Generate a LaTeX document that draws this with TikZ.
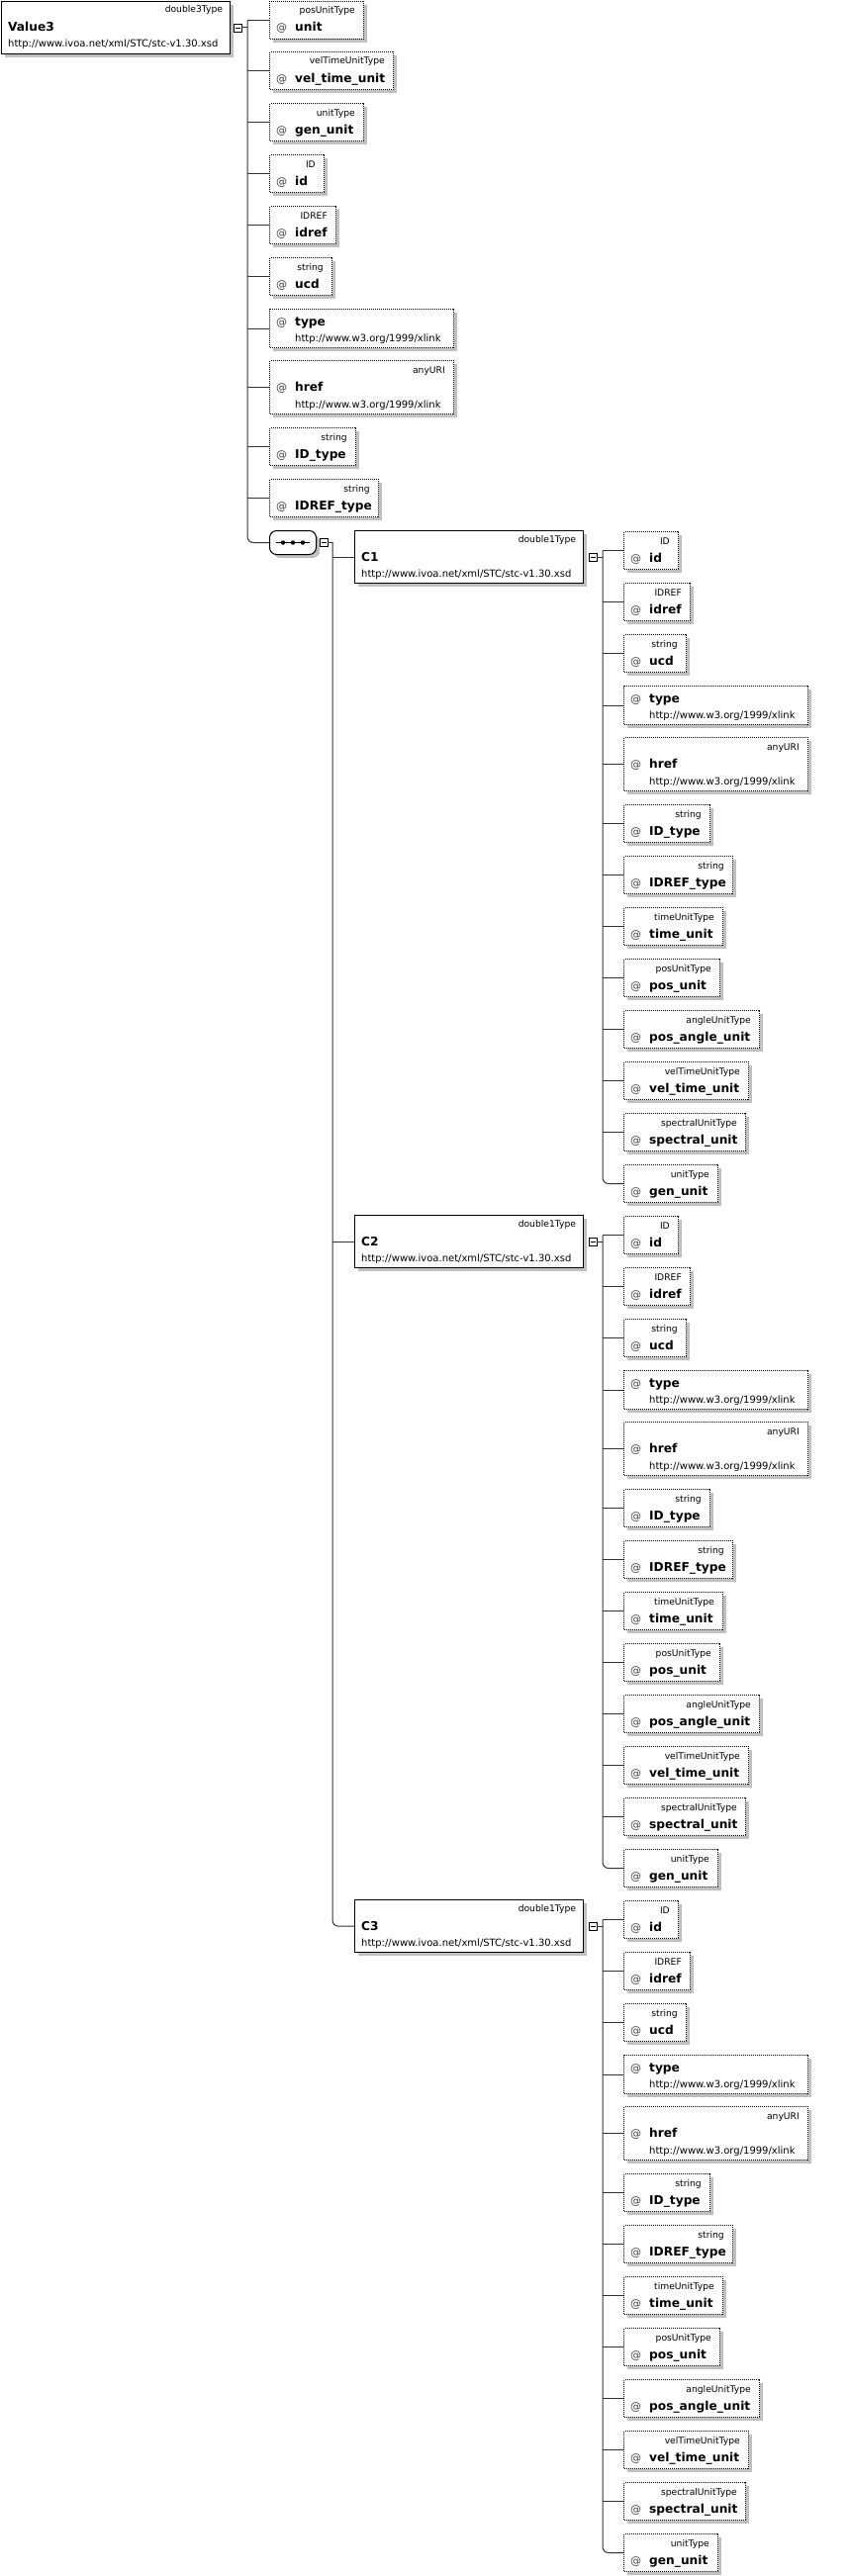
\documentclass[tikz,border=0pt]{standalone}
\usepackage{fontspec}
\setmainfont{DejaVu Sans}
\usetikzlibrary{calc}
\definecolor{shadowgray}{HTML}{C0C0C0}
\definecolor{linegray}{HTML}{333333}
\tikzset{
  x=1pt, y=-1pt,
  attrbox/.style={draw=black, fill=white, line width=1pt, dash pattern=on 1pt off 1pt, inner sep=0pt, anchor=north west},
  elembox/.style={draw=black, fill=white, line width=1.3pt, inner sep=0pt, anchor=north west},
  seqbox/.style={draw=black, fill=white, line width=1pt, rounded corners=7pt, inner sep=0pt, anchor=north west, minimum width=47, minimum height=24},
  typelbl/.style={font=\fontsize{9.2}{10}\selectfont, anchor=base east, inner sep=0pt},
  namelbl/.style={font=\fontsize{12.2}{14}\selectfont\bfseries, anchor=base west, inner sep=0pt},
  atlbl/.style={font=\fontsize{11}{13}\selectfont, anchor=base west, inner sep=0pt, text=black!75},
  urllbl/.style={font=\fontsize{10}{12}\selectfont, anchor=base west, inner sep=0pt},
  conn/.style={draw=linegray, line width=1pt},
  colbox/.style={draw=black, fill=white, line width=0.9pt, minimum size=8, inner sep=0pt,
    path picture={\draw[line width=0.8pt] ([xshift=-2.5pt]path picture bounding box.center) -- ([xshift=2.5pt]path picture bounding box.center);}},
}
% short attribute box: name, x, y, width, type label, attribute name
\newcommand\attrbx[6]{%
  \fill[shadowgray] (#2+4,#3+4) rectangle (#2+#4+4,#3+42);
  \node[attrbox, minimum width=#4, minimum height=38] (#1) at (#2,#3) {};
  \node[typelbl] (#1-t) at ($(#1.north east)+(-9,13)$) {#5};
  \node[atlbl] (#1-a) at ($(#1.north west)+(7,31)$) {@};
  \node[namelbl] (#1-n) at ($(#1.north west)+(26,31)$) {#6};
}
% xlink:type box: name, x, y, width
\newcommand\attrtype[4]{%
  \fill[shadowgray] (#2+4,#3+4) rectangle (#2+#4+4,#3+43);
  \node[attrbox, minimum width=#4, minimum height=39] (#1) at (#2,#3) {};
  \node[atlbl] (#1-a) at ($(#1.north west)+(7,17)$) {@};
  \node[namelbl] (#1-n) at ($(#1.north west)+(26,17)$) {type};
  \node[urllbl] (#1-u) at ($(#1.north west)+(26,33)$) {http://www.w3.org/1999/xlink};
}
% xlink:href box: name, x, y, width
\newcommand\attrhref[4]{%
  \fill[shadowgray] (#2+4,#3+4) rectangle (#2+#4+4,#3+58);
  \node[attrbox, minimum width=#4, minimum height=54] (#1) at (#2,#3) {};
  \node[typelbl] (#1-t) at ($(#1.north east)+(-9,13)$) {anyURI};
  \node[atlbl] (#1-a) at ($(#1.north west)+(7,31)$) {@};
  \node[namelbl] (#1-n) at ($(#1.north west)+(26,31)$) {href};
  \node[urllbl] (#1-u) at ($(#1.north west)+(26,48)$) {http://www.w3.org/1999/xlink};
}
% element box: name, x, y, element name, type
\newcommand\elembx[5]{%
  \fill[shadowgray] (#2+4,#3+4) rectangle (#2+235,#3+57);
  \node[elembox, minimum width=231, minimum height=53] (#1) at (#2,#3) {};
  \node[typelbl] (#1-t) at ($(#1.north east)+(-8,12)$) {#5};
  \node[namelbl] (#1-n) at ($(#1.north west)+(7,31)$) {#4};
  \node[urllbl] (#1-u) at ($(#1.north west)+(7,47)$) {http://www.ivoa.net/xml/STC/stc-v1.30.xsd};
}
% children of a C element: prefix, top y
\newcommand\ccol[2]{%
  \attrbx{#1-id}{630}{#2+1}{55}{ID}{id}
  \attrbx{#1-idref}{630}{#2+53}{67}{IDREF}{idref}
  \attrbx{#1-ucd}{630}{#2+105}{63}{string}{ucd}
  \attrtype{#1-type}{630}{#2+157}{186}
  \attrhref{#1-href}{630}{#2+209}{186}
  \attrbx{#1-IDt}{630}{#2+277}{87}{string}{ID\_type}
  \attrbx{#1-IDREFt}{630}{#2+329}{110}{string}{IDREF\_type}
  \attrbx{#1-time}{630}{#2+381}{100}{timeUnitType}{time\_unit}
  \attrbx{#1-pos}{630}{#2+433}{97}{posUnitType}{pos\_unit}
  \attrbx{#1-ang}{630}{#2+485}{137}{angleUnitType}{pos\_angle\_unit}
  \attrbx{#1-vel}{630}{#2+537}{126}{velTimeUnitType}{vel\_time\_unit}
  \attrbx{#1-spec}{630}{#2+589}{123}{spectralUnitType}{spectral\_unit}
  \attrbx{#1-gen}{630}{#2+641}{95}{unitType}{gen\_unit}
  \coordinate (#1-tr) at (609,#2);
  \draw[conn] (#1-col.east) -- (#1-col.east -| #1-tr);
  \draw[conn, rounded corners=6pt] (#1-id.west -| #1-tr) -- (#1-tr |- #1-gen.west) -- (#1-gen.west);
  \foreach \k in {id,idref,ucd,type,href,IDt,IDREFt,time,pos,ang,vel,spec}{
    \draw[conn] (#1-\k.west -| #1-tr) -- (#1-\k.west);
  }
}
\begin{document}
\begin{tikzpicture}
\useasboundingbox (0,0) rectangle (857,2604);
% root element
\elembx{v3}{1}{1}{Value3}{double3Type}
\node[colbox] (v3-col) at (240,28) {};
\coordinate (vtr) at (250,0);
% root attributes
\attrbx{v-unit}{272}{1}{95}{posUnitType}{unit}
\attrbx{v-vel}{272}{52}{125}{velTimeUnitType}{vel\_time\_unit}
\attrbx{v-gen}{272}{104}{95}{unitType}{gen\_unit}
\attrbx{v-id}{272}{156}{55}{ID}{id}
\attrbx{v-idref}{272}{208}{67}{IDREF}{idref}
\attrbx{v-ucd}{272}{260}{63}{string}{ucd}
\attrtype{v-type}{272}{312}{186}
\attrhref{v-href}{272}{364}{186}
\attrbx{v-IDt}{272}{432}{87}{string}{ID\_type}
\attrbx{v-IDREFt}{272}{484}{110}{string}{IDREF\_type}
% sequence compositor
\fill[shadowgray, rounded corners=7pt] (276,540) rectangle (323,564);
\node[seqbox] (seq) at (272,536) {};
\draw[line width=1pt] ($(seq.center)+(-17,0)$) -- ($(seq.center)+(17,0)$);
\foreach \dx in {-10,0,10}{\fill ($(seq.center)+(\dx,0)$) circle[radius=2.2pt];}
\node[colbox] (seq-col) at (327,548) {};
\coordinate (str) at (336,0);
% root connectors
\draw[conn] (v3-col.east) -- (v3-col.east -| vtr);
\draw[conn, rounded corners=6pt] (v-unit.west -| vtr) -- (vtr |- seq.west) -- (seq.west);
\foreach \k in {unit,vel,gen,id,idref,ucd,type,href,IDt,IDREFt}{
  \draw[conn] (v-\k.west -| vtr) -- (v-\k.west);
}
% C elements
\elembx{c1}{358}{536}{C1}{double1Type}
\elembx{c2}{358}{1228}{C2}{double1Type}
\elembx{c3}{358}{1920}{C3}{double1Type}
\node[colbox] (c1-col) at (599,563) {};
\node[colbox] (c2-col) at (599,1255) {};
\node[colbox] (c3-col) at (599,1947) {};
\draw[conn] (seq-col.east) -- (seq-col.east -| str);
\draw[conn, rounded corners=6pt] (seq-col.east -| str) -- (str |- c3.west) -- (c3.west);
\draw[conn] (c1.west -| str) -- (c1.west);
\draw[conn] (c2.west -| str) -- (c2.west);
% children
\ccol{c1}{536}
\ccol{c2}{1228}
\ccol{c3}{1920}
\end{tikzpicture}
\end{document}
